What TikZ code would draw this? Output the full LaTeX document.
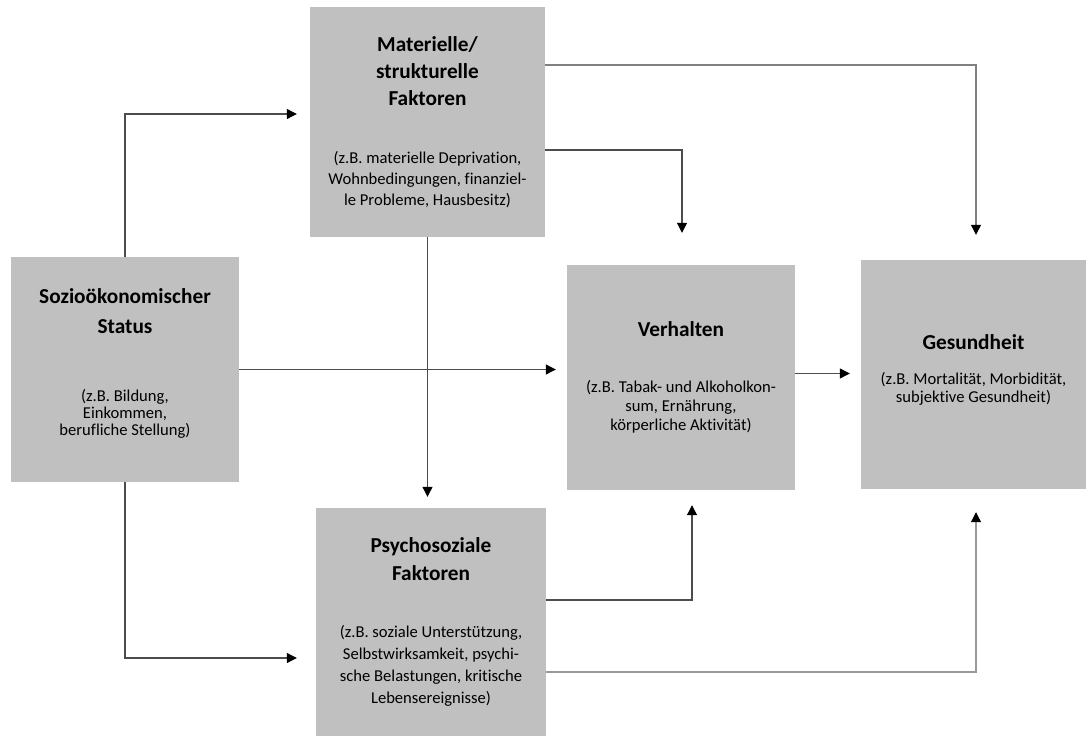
\documentclass[tikz,border=0pt]{standalone}
\usepackage{fontspec}
\setmainfont{Carlito}[Ligatures=NoCommon]
\usetikzlibrary{arrows.meta, positioning}
\tikzset{>={Triangle[width=10pt,length=10pt,color=black]}}
\definecolor{boxgray}{HTML}{C0C0C0}
\newcommand{\hd}[1]{{\fontsize{21.3}{21}\selectfont\bfseries #1}}

\begin{document}
\begin{tikzpicture}[x=1pt, y=-1pt,
	kasten/.style={fill=boxgray, align=center, inner sep=0pt, font=\fontsize{16.6}{21}\selectfont},
	pfeil/.style={->, draw=black!70, line width=1.1pt}]
	\useasboundingbox (0,0) rectangle (1086,736);
	\node[kasten, minimum width=228, minimum height=225] (sozio) at (125,369.5)
		{\hd{Sozioökonomischer}\\[9pt]\hd{Status}\\[47pt](z.B. Bildung,\\[-4pt]Einkommen,\\[-4pt]berufliche Stellung)\\[-6pt]};
	\node[kasten, minimum width=235, minimum height=230] (mat) at (427.5,122)
		{\hd{Materielle/}\\[6pt]\hd{strukturelle}\\[6pt]\hd{Faktoren}\\[37pt](z.B. materielle Deprivation,\\Wohnbedingungen, finanziel-\\le Probleme, Hausbesitz)};
	\node[kasten, minimum width=228, minimum height=225] (verh) at (681,377.5)
		{\hd{Verhalten}\\[35pt](z.B. Tabak- und Alkoholkon-\\[-2pt]sum, Ernährung,\\[-2pt]körperliche Aktivität)};
	\node[kasten, minimum width=225, minimum height=229] (ges) at (973.5,374.5)
		{\hd{Gesundheit}\\[14pt](z.B. Mortalität, Morbidität,\\[-3pt]subjektive Gesundheit)\\[-9pt]};
	\node[kasten, minimum width=230, minimum height=228] (psych) at (431,622)
		{\hd{Psychosoziale}\\[7pt]\hd{Faktoren}\\[36pt](z.B. soziale Unterstützung,\\[1pt]Selbstwirksamkeit, psychi-\\[1pt]sche Belastungen, kritische\\[1pt]Lebensereignisse)};

	\draw[pfeil, shorten >=13pt] (sozio.north) |- ([yshift=8pt]mat.west);
	\draw[pfeil, shorten >=19pt] (sozio.south) |- ([yshift=-36pt]psych.west);
	\draw[pfeil, shorten >=11pt] (sozio.east) -- (sozio.east -| verh.west);
	\draw[pfeil, shorten >=11pt] (mat.south) -- (mat.south |- psych.north);
	\draw[pfeil, draw=black!50, shorten >=25pt] ([yshift=57pt]mat.east) -| ([xshift=2.5pt]ges.north);
	\draw[pfeil, shorten >=32pt] ([yshift=-28pt]mat.east) -| ([xshift=1pt]verh.north);
	\draw[pfeil, shorten >=11pt] ([yshift=4pt]verh.east) -- ([yshift=4pt]verh.east -| ges.west);
	\draw[pfeil, shorten >=15pt] ([yshift=22pt]psych.east) -| ([xshift=11pt]verh.south);
	\draw[pfeil, draw=black!40, shorten >=23pt] ([yshift=-50pt]psych.east) -| ([xshift=2.5pt]ges.south);
\end{tikzpicture}
\end{document}
